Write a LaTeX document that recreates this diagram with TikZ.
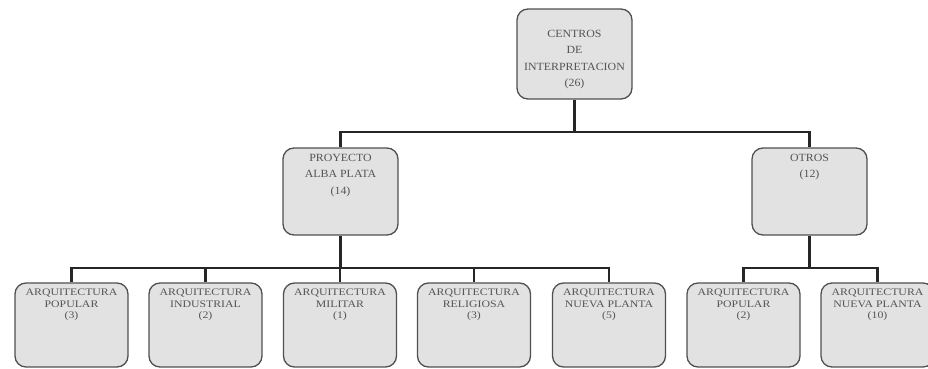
\documentclass[tikz,border=0pt]{standalone}
\usepackage{fontspec}
\setmainfont{Liberation Serif}
\newfontfamily\widebig[FakeStretch=1.08]{Liberation Serif}
\newfontfamily\widesmall[FakeStretch=1.18]{Liberation Serif}
\definecolor{boxfill}{HTML}{E2E2E2}
\definecolor{boxline}{HTML}{505050}
\definecolor{txt}{HTML}{555555}
\newcommand{\toptext}[4]{\parbox[c][#2][t]{#1}{\centering\vspace*{#3}#4\par}}
\tikzset{
  box/.style={draw=boxline, fill=boxfill, line width=1.3pt, rounded corners=11pt,
    inner sep=0pt, text=txt},
  conn/.style={line width=2.6pt, black!85},
  big/.style={font=\widebig\fontsize{11}{16.5}\selectfont},
  small/.style={font=\widesmall\fontsize{10}{11.5}\selectfont},
}
\begin{document}
\begin{tikzpicture}[x=1pt,y=-1pt]
\useasboundingbox (0,0) rectangle (928,369);
% root
\node[box,big] (root) at (574.5,54) {\toptext{115pt}{90pt}{21pt}{CENTROS\\DE\\INTERPRETACION\\(26)}};
% second level
\node[box,big] (pap) at (340.5,191.5) {\toptext{115pt}{87pt}{6pt}{PROYECTO\\ALBA PLATA\\(14)}};
\node[box,big] (otr) at (809.5,191.5) {\toptext{115pt}{87pt}{6pt}{OTROS\\(12)}};
% third level
\node[box,small] (a1) at (71.5,325) {\toptext{113pt}{84pt}{6pt}{ARQUITECTURA\\POPULAR\\(3)}};
\node[box,small] (a2) at (205.5,325) {\toptext{113pt}{84pt}{6pt}{ARQUITECTURA\\INDUSTRIAL\\(2)}};
\node[box,small] (a3) at (340,325) {\toptext{113pt}{84pt}{6pt}{ARQUITECTURA\\MILITAR\\(1)}};
\node[box,small] (a4) at (474,325) {\toptext{113pt}{84pt}{6pt}{ARQUITECTURA\\RELIGIOSA\\(3)}};
\node[box,small] (a5) at (609,325) {\toptext{113pt}{84pt}{6pt}{ARQUITECTURA\\NUEVA PLANTA\\(5)}};
\node[box,small] (b1) at (743.5,325) {\toptext{113pt}{84pt}{6pt}{ARQUITECTURA\\POPULAR\\(2)}};
\node[box,small] (b2) at (877.5,325) {\toptext{113pt}{84pt}{6pt}{ARQUITECTURA\\NUEVA PLANTA\\(10)}};
% bus levels
\coordinate (bus1) at (0,132);
\coordinate (bus2) at (0,268);
% connectors
\draw[conn] (root.south) -- (root.south |- bus1) -| (pap.north);
\draw[conn] (root.south |- bus1) -| (otr.north);
\draw[conn] (pap.south) -- (pap.south |- bus2);
\foreach \n in {a1,a2,a3,a4,a5}{
  \draw[conn] (pap.south |- bus2) -| (\n.north);
}
\draw[conn] (otr.south) -- (otr.south |- bus2);
\foreach \n in {b1,b2}{
  \draw[conn] (otr.south |- bus2) -| (\n.north);
}
\end{tikzpicture}
\end{document}
